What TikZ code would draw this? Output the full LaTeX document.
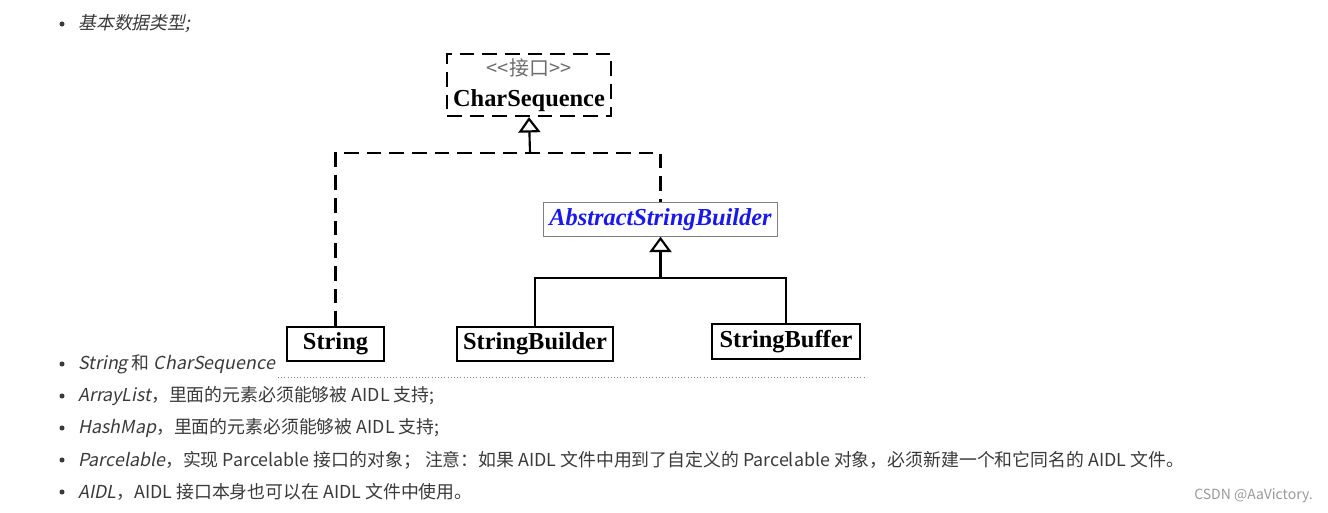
\documentclass[tikz,border=0pt]{standalone}
\usepackage{fontspec}
\setmainfont{Liberation Serif}
\newfontfamily\cjk{Noto Sans CJK SC}
\newfontfamily\cjkit[FakeSlant=0.2]{Noto Sans CJK SC}
\usetikzlibrary{arrows.meta}

\definecolor{txtgray}{HTML}{3a3a3a}
\definecolor{umlblue}{RGB}{25,25,235}

\begin{document}
\begin{tikzpicture}[x=0.75pt,y=-0.75pt,
  cls/.style={draw, line width=1.7pt, inner sep=0pt, font=\fontsize{18.3}{20}\selectfont\bfseries},
  iface/.style={draw, dashed, dash pattern=on 11pt off 6pt, line width=1.7pt, inner sep=0pt, align=center, font=\fontsize{18.3}{23.5}\selectfont},
  dashline/.style={line width=1.7pt, dash pattern=on 11pt off 6pt},
  solidline/.style={line width=1.6pt},
  realize/.style={line width=1.6pt, -{Triangle[open, length=11.5pt, width=16.5pt]}},
  item/.style={anchor=west, inner sep=0pt, text=txtgray, font=\cjk\fontsize{13.4}{15}\selectfont}]
\useasboundingbox (0,0) rectangle (1328,513);

% bullet list
\foreach \y in {24,364,396,428,460,492} {
    \fill[txtgray] (62,\y) circle[radius=1.9pt];
}
\node[item] (basic) at (78,24) {\cjkit 基本数据类型;};
\node[item] (strline) at (78,364) {{\cjkit String} 和 {\cjkit CharSequence}};
\node[item] (arraylist) at (78,396) {{\cjkit ArrayList}，里面的元素必须能够被 AIDL 支持;};
\node[item] (hashmap) at (78,428) {{\cjkit HashMap}，里面的元素必须能够被 AIDL 支持;};
\node[item] (parcel) at (78,460) {{\cjkit Parcelable}，实现 Parcelable 接口的对象； 注意：如果 AIDL 文件中用到了自定义的 Parcelable 对象，必须新建一个和它同名的 AIDL 文件。};
\node[item] (aidl) at (78,492) {{\cjkit AIDL}，AIDL 接口本身也可以在 AIDL 文件中使用。};
\draw[dotted, gray] (278,377) -- (866,377);

% class diagram
\node[iface, minimum width=123pt, minimum height=46.5pt] (cs) at (529,85) {{\color{gray!85!black}\cjk\fontsize{15}{17}\selectfont <<接口>>}\\\textbf{CharSequence}};
\node[draw=gray, line width=0.8pt, inner sep=0pt, minimum width=176pt, minimum height=25pt, text=umlblue, font=\fontsize{18.3}{20}\selectfont\bfseries\itshape] (asb) at (660.5,219.5) {AbstractStringBuilder};
\node[cls, minimum width=73pt, minimum height=25.5pt] (string) at (335.5,344) {String};
\node[cls, minimum width=117pt, minimum height=25.5pt] (sbuilder) at (535,344) {StringBuilder};
\node[cls, minimum width=111pt, minimum height=26pt] (sbuffer) at (786,341.5) {StringBuffer};

\coordinate (csjoin) at (530,153);
\coordinate (asbjoin) at (660.5,278);
\draw[dashline] (string.north) |- (csjoin) -| (asb.north);
\draw[realize] (csjoin) -- (cs.south);
\draw[solidline] (sbuilder.north) |- (asbjoin) -| (sbuffer.north);
\draw[realize] (asbjoin) -- (asb.south);

% watermark
\node[anchor=east, inner sep=0pt, text=gray!80, font=\cjk\fontsize{10.5}{12}\selectfont] (mark) at (1313,496) {CSDN @AaVictory.};
\end{tikzpicture}
\end{document}
